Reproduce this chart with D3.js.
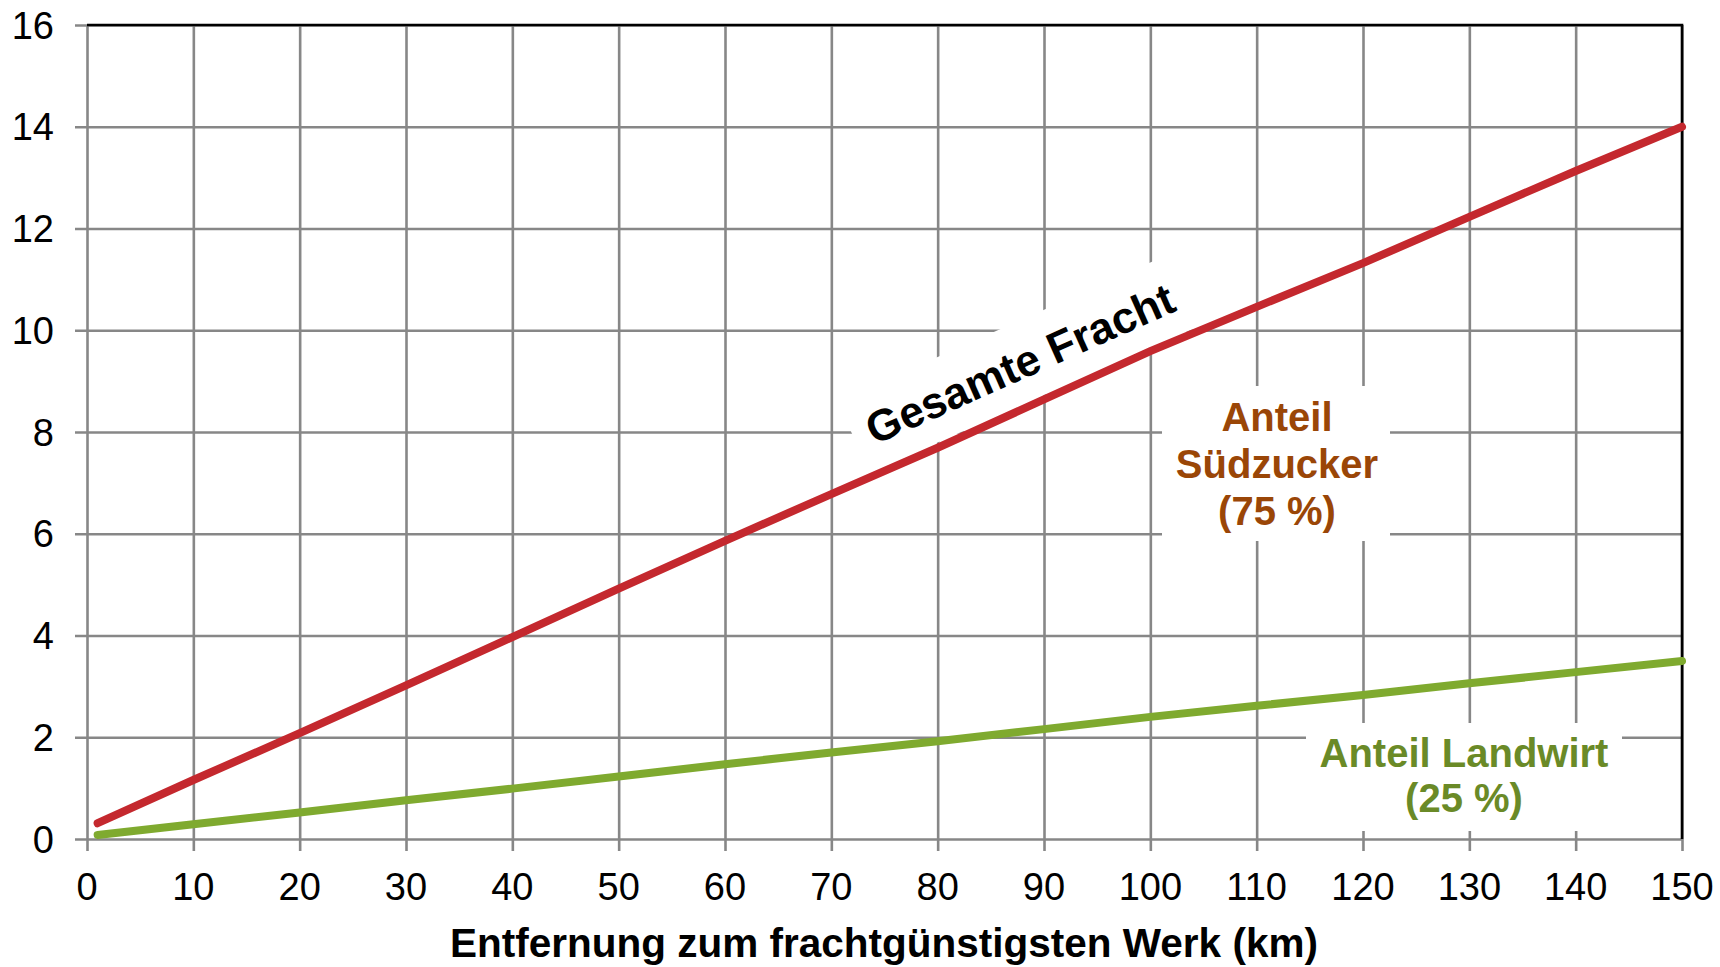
<!DOCTYPE html>
<html>
<head>
<meta charset="utf-8">
<script src="https://cdn.jsdelivr.net/npm/d3@7"></script>
<style>
  html, body { margin: 0; padding: 0; background: #fff; }
  svg { display: block; font-family: "Liberation Sans", Arial, sans-serif; }
</style>
</head>
<body>
<svg id="chart" width="1720" height="967"></svg>
<script>
// ---- data ----
const distances = [1, 10, 20, 30, 40, 50, 60, 70, 80, 90, 100, 110, 120, 130, 140, 150];
const gesamteFracht = [0.31, 1.16, 2.08, 3.02, 3.97, 4.92, 5.86, 6.78, 7.69, 8.64, 9.59, 10.46, 11.32, 12.23, 13.13, 14.0];
const anteilLandwirt = [0.08, 0.29, 0.52, 0.76, 0.99, 1.23, 1.47, 1.70, 1.92, 2.16, 2.40, 2.62, 2.83, 3.06, 3.28, 3.50];
const xTicks = [0, 10, 20, 30, 40, 50, 60, 70, 80, 90, 100, 110, 120, 130, 140, 150];
const yTicks = [0, 2, 4, 6, 8, 10, 12, 14, 16];
const xTitle = "Entfernung zum frachtgünstigsten Werk (km)";
const labelGesamt = "Gesamte Fracht";
const labelSued = ["Anteil", "Südzucker", "(75 %)"];
const labelLand = ["Anteil Landwirt", "(25 %)"];

// ---- layout ----
const L = 87, R = 1682, T = 25, B = 839;
const svg = d3.select("#chart");
const x = d3.scaleLinear().domain([0, 150]).range([L, R]);
const y = d3.scaleLinear().domain([0, 16]).range([B, T]);
const gridColor = "#878787";

// gridlines (with outward tick stubs)
const xAxis = d3.axisBottom(x).tickValues(xTicks).tickSize(-(B - T)).tickSizeOuter(0).tickFormat("");
const gx = svg.append("g").attr("transform", `translate(0,${B})`).call(xAxis);
gx.select(".domain").remove();
gx.selectAll(".tick line").attr("stroke", gridColor).attr("stroke-width", 2.6)
  .attr("y1", 12);

const yAxis = d3.axisLeft(y).tickValues(yTicks).tickSize(-(R - L)).tickSizeOuter(0).tickFormat("");
const gy = svg.append("g").attr("transform", `translate(${L},0)`).call(yAxis);
gy.select(".domain").remove();
gy.selectAll(".tick line").attr("stroke", gridColor).attr("stroke-width", 2.6)
  .attr("x1", -12);

// frame: top & right black
svg.append("path")
  .attr("d", `M${L},${y(16)}H${x(150)}V${y(0)}`)
  .attr("fill", "none").attr("stroke", "#000").attr("stroke-width", 2.6);

// tick labels
svg.append("g").selectAll("text").data(xTicks).join("text")
  .attr("x", d => x(d)).attr("y", 900)
  .attr("text-anchor", "middle").attr("font-size", 38).attr("fill", "#000")
  .text(d => d);
svg.append("g").selectAll("text").data(yTicks).join("text")
  .attr("x", 54).attr("y", d => y(d)).attr("dy", "0.36em")
  .attr("text-anchor", "end").attr("font-size", 38).attr("fill", "#000")
  .text(d => d);

// axis title
svg.append("text").attr("x", 884).attr("y", 957)
  .attr("text-anchor", "middle").attr("font-size", 40.5).attr("font-weight", "bold")
  .text(xTitle);

// label boxes (white) covering gridlines
const gBox = svg.append("g")
  .attr("transform", "translate(1018,364) rotate(-24)");
gBox.append("rect").attr("x", -180).attr("y", -39).attr("width", 360).attr("height", 78).attr("fill", "#fff");
svg.append("rect").attr("x", 1162).attr("y", 386).attr("width", 228).attr("height", 155).attr("fill", "#fff");
svg.append("rect").attr("x", 1306).attr("y", 723).attr("width", 316).attr("height", 108).attr("fill", "#fff");

// lines
const line = d3.line().x((d, i) => x(distances[i])).y(d => y(d));
svg.append("path").datum(anteilLandwirt).attr("d", line)
  .attr("fill", "none").attr("stroke", "#7FAA2F").attr("stroke-width", 8).attr("stroke-linecap", "round");
svg.append("path").datum(gesamteFracht).attr("d", line)
  .attr("fill", "none").attr("stroke", "#C4282E").attr("stroke-width", 8).attr("stroke-linecap", "round");

// label texts
gBox.append("text").attr("x", 2).attr("y", 0).attr("dy", "0.36em")
  .attr("text-anchor", "middle").attr("font-size", 44).attr("font-weight", "bold").attr("fill", "#000")
  .text(labelGesamt);

svg.append("g").selectAll("text").data(labelSued).join("text")
  .attr("x", 1277).attr("y", (d, i) => 431 + i * 47)
  .attr("text-anchor", "middle").attr("font-size", 40).attr("font-weight", "bold").attr("fill", "#9A4607")
  .text(d => d);

svg.append("g").selectAll("text").data(labelLand).join("text")
  .attr("x", 1464).attr("y", (d, i) => 767 + i * 45)
  .attr("text-anchor", "middle").attr("font-size", 40).attr("font-weight", "bold").attr("fill", "#6A8A27")
  .text(d => d);
</script>
</body>
</html>
